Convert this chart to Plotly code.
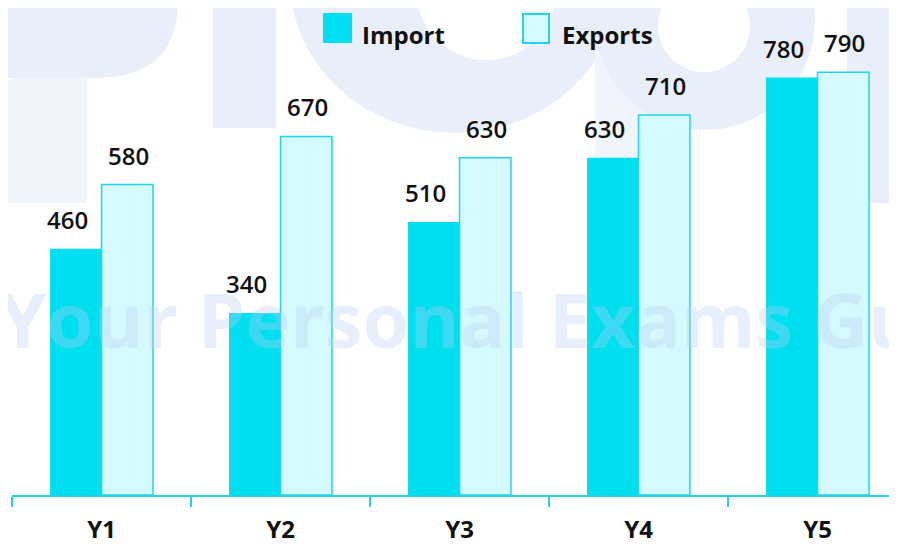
import plotly.graph_objects as go

# ---- data ----
categories = ["Y1", "Y2", "Y3", "Y4", "Y5"]
imports = [460, 340, 510, 630, 780]
exports = [580, 670, 630, 710, 790]
series_names = ["Import", "Exports"]

# ---- styles ----
IMPORT_COLOR = "#00DFF0"
EXPORT_FILL = "#D4FAFE"
EXPORT_LINE = "#22D4EA"
AXIS_COLOR = "#22D4EA"
WM = "#E8EFFB"        # watermark tint
WM2 = "#EFF4FD"       # lighter watermark tint
FONT = "Open Sans"
PAGE = 8                      # default html body margin
W, H = 897 - PAGE, 545 - PAGE
ML, MR, MT, MB = 4, 0, 0, 50

fig = go.Figure()
fig.add_trace(go.Bar(
    x=categories, y=imports, name=series_names[0],
    marker=dict(color=IMPORT_COLOR, line=dict(width=0)),
    showlegend=False,
))
fig.add_trace(go.Bar(
    x=categories, y=exports, name=series_names[1],
    marker=dict(color=EXPORT_FILL, line=dict(color=EXPORT_LINE, width=1.5)),
    showlegend=False,
))

# value labels above bars (offset to each bar of the pair)
annotations = []
for i, c in enumerate(categories):
    for val, shift in ((imports[i], -34), (exports[i], 27)):
        annotations.append(dict(
            x=c, y=val, xref="x", yref="y", text=str(val), showarrow=False,
            xshift=shift, yshift=11, yanchor="bottom",
            font=dict(family=FONT, size=24, color="#111111", weight=600),
        ))

# paper-coordinate helpers (legend / watermark placement, in screenshot pixels)
pw, ph = W - ML - MR, H - MT - MB
def px(x):
    return (x - PAGE - ML) / pw
def py(y):
    return (H - MB - (y - PAGE)) / ph
def path(cmds):
    out = []
    for c in cmds:
        if isinstance(c, str):
            out.append(c)
        else:
            out.append(f"{px(c[0]):.5f},{py(c[1]):.5f}")
    return " ".join(out)

# watermark text
annotations.append(dict(
    x=px(-3), y=py(318), xref="paper", yref="paper", xanchor="left", yanchor="middle",
    text="Your Personal Exams Guide", showarrow=False,
    font=dict(family=FONT, size=76, color="rgba(185,205,245,0.33)", weight=700),
))

def wm_path(cmds, color):
    return dict(type="path", xref="paper", yref="paper", layer="below",
                path=path(cmds), fillcolor=color, line=dict(width=0))
def wm_rect(x0, y0, x1, y1, color):
    return dict(type="rect", xref="paper", yref="paper", layer="below",
                x0=px(x0), x1=px(x1), y0=py(y1), y1=py(y0), fillcolor=color, line=dict(width=0))
def wm_circle(cx, cy, rx, ry, color):
    return dict(type="circle", xref="paper", yref="paper", layer="below",
                x0=px(cx - rx), x1=px(cx + rx), y0=py(cy + ry), y1=py(cy - ry),
                fillcolor=color, line=dict(width=0))

# faint background logo letters
shapes = [
    wm_path(["M", (0, 0), "L", (178, 0), "Q", (178, 78), (95, 78), "L", (0, 78), "Z"], WM),
    wm_path(["M", (0, 98), "Q", (0, 78), (22, 78), "L", (87, 78), "L", (87, 203), "L", (0, 203), "Z"], WM2),
    wm_rect(213, 0, 276, 128, WM),
    wm_circle(455, -20, 165, 153, WM),
    wm_circle(486, -10, 70, 70, "white"),
    wm_path(["M", (470, 140), "Q", (560, 132), (578, 80), "L", (612, 80), "L", (612, 140), "Z"], "white"),
    wm_rect(595, 20, 658, 203, WM2),
    wm_circle(705, 20, 110, 110, WM),
    wm_circle(704, 26, 46, 46, "white"),
    wm_rect(847, 0, 900, 203, WM),
]

# legend drawn as shapes + text
shapes += [
    dict(type="rect", xref="paper", yref="paper", x0=px(323), x1=px(352), y0=py(43), y1=py(13),
         fillcolor=IMPORT_COLOR, line=dict(width=0)),
    dict(type="rect", xref="paper", yref="paper", x0=px(523), x1=px(549), y0=py(43), y1=py(14),
         fillcolor=EXPORT_FILL, line=dict(color=EXPORT_LINE, width=2)),
]
for name, xl in zip(series_names, (360, 560)):
    annotations.append(dict(
        x=px(xl), y=py(34), xref="paper", yref="paper", xanchor="left", yanchor="middle",
        text=name, showarrow=False,
        font=dict(family=FONT, size=24, color="#111111", weight=700),
    ))

fig.update_layout(
    width=W, height=H,
    margin=dict(l=ML, r=MR, t=MT, b=MB, autoexpand=False),
    paper_bgcolor="white", plot_bgcolor="rgba(0,0,0,0)",
    barmode="group", bargap=0.425, bargroupgap=0,
    annotations=annotations, shapes=shapes,
    showlegend=False,
)
fig.update_xaxes(
    range=[-0.5, 4.444],
    showline=True, linecolor=AXIS_COLOR, linewidth=2,
    ticks="outside", tickson="boundaries", ticklen=10, tickcolor=AXIS_COLOR, tickwidth=1.5,
    ticklabelstandoff=12,
    tickfont=dict(family=FONT, size=24, color="#111111", weight=700),
    showgrid=False, zeroline=False,
)
fig.update_yaxes(range=[0, 910], visible=False, showgrid=False, zeroline=False)

fig.write_html("out.html")
